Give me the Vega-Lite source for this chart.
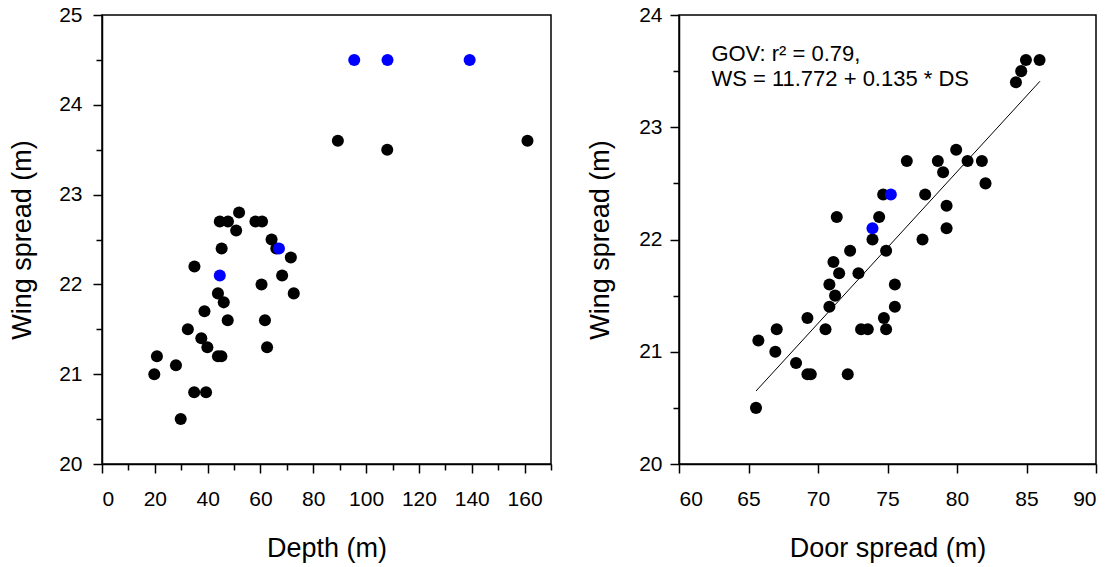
{
  "$schema": "https://vega.github.io/schema/vega-lite/v6.json",
  "background": "white",
  "padding": {"left": 7, "top": 3, "right": 5, "bottom": 5},
  "bounds": "flush",
  "spacing": 128,
  "config": {
    "font": "Liberation Sans",
    "view": {"stroke": "black", "strokeWidth": 1.5},
    "axis": {
      "grid": false,
      "domainColor": "black",
      "domainWidth": 1.5,
      "tickColor": "black",
      "tickWidth": 1.5,
      "labelFont": "Liberation Sans",
      "labelFontSize": 21,
      "labelColor": "black",
      "titleFont": "Liberation Sans",
      "titleFontSize": 27,
      "titleFontWeight": "normal",
      "titleColor": "black",
      "labelOverlap": false
    }
  },
  "datasets": {
    "depth": [
      {"depth": 89.3, "ws": 23.6, "grp": "black"},
      {"depth": 108.0, "ws": 23.5, "grp": "black"},
      {"depth": 161.1, "ws": 23.6, "grp": "black"},
      {"depth": 51.9, "ws": 22.8, "grp": "black"},
      {"depth": 44.6, "ws": 22.7, "grp": "black"},
      {"depth": 47.7, "ws": 22.7, "grp": "black"},
      {"depth": 58.1, "ws": 22.7, "grp": "black"},
      {"depth": 60.6, "ws": 22.7, "grp": "black"},
      {"depth": 50.8, "ws": 22.6, "grp": "black"},
      {"depth": 64.2, "ws": 22.5, "grp": "black"},
      {"depth": 66.0, "ws": 22.4, "grp": "black"},
      {"depth": 45.3, "ws": 22.4, "grp": "black"},
      {"depth": 71.5, "ws": 22.3, "grp": "black"},
      {"depth": 35.0, "ws": 22.2, "grp": "black"},
      {"depth": 68.2, "ws": 22.1, "grp": "black"},
      {"depth": 60.4, "ws": 22.0, "grp": "black"},
      {"depth": 43.9, "ws": 21.9, "grp": "black"},
      {"depth": 72.6, "ws": 21.9, "grp": "black"},
      {"depth": 46.1, "ws": 21.8, "grp": "black"},
      {"depth": 38.8, "ws": 21.7, "grp": "black"},
      {"depth": 47.6, "ws": 21.6, "grp": "black"},
      {"depth": 61.7, "ws": 21.6, "grp": "black"},
      {"depth": 32.5, "ws": 21.5, "grp": "black"},
      {"depth": 37.6, "ws": 21.4, "grp": "black"},
      {"depth": 39.9, "ws": 21.3, "grp": "black"},
      {"depth": 62.5, "ws": 21.3, "grp": "black"},
      {"depth": 43.9, "ws": 21.2, "grp": "black"},
      {"depth": 45.2, "ws": 21.2, "grp": "black"},
      {"depth": 20.8, "ws": 21.2, "grp": "black"},
      {"depth": 28.0, "ws": 21.1, "grp": "black"},
      {"depth": 19.8, "ws": 21.0, "grp": "black"},
      {"depth": 34.9, "ws": 20.8, "grp": "black"},
      {"depth": 39.4, "ws": 20.8, "grp": "black"},
      {"depth": 29.8, "ws": 20.5, "grp": "black"},
      {"depth": 95.5, "ws": 24.5, "grp": "blue"},
      {"depth": 108.1, "ws": 24.5, "grp": "blue"},
      {"depth": 139.2, "ws": 24.5, "grp": "blue"},
      {"depth": 67.0, "ws": 22.4, "grp": "blue"},
      {"depth": 44.6, "ws": 22.1, "grp": "blue"}
    ],
    "door": [
      {"ds": 85.94, "ws": 23.6, "grp": "black"},
      {"ds": 84.96, "ws": 23.6, "grp": "black"},
      {"ds": 84.62, "ws": 23.5, "grp": "black"},
      {"ds": 84.24, "ws": 23.4, "grp": "black"},
      {"ds": 79.94, "ws": 22.8, "grp": "black"},
      {"ds": 76.39, "ws": 22.7, "grp": "black"},
      {"ds": 78.62, "ws": 22.7, "grp": "black"},
      {"ds": 80.76, "ws": 22.7, "grp": "black"},
      {"ds": 81.79, "ws": 22.7, "grp": "black"},
      {"ds": 79.0, "ws": 22.6, "grp": "black"},
      {"ds": 82.05, "ws": 22.5, "grp": "black"},
      {"ds": 74.69, "ws": 22.4, "grp": "black"},
      {"ds": 77.71, "ws": 22.4, "grp": "black"},
      {"ds": 79.25, "ws": 22.3, "grp": "black"},
      {"ds": 71.35, "ws": 22.2, "grp": "black"},
      {"ds": 74.4, "ws": 22.2, "grp": "black"},
      {"ds": 79.25, "ws": 22.1, "grp": "black"},
      {"ds": 73.92, "ws": 22.0, "grp": "black"},
      {"ds": 77.52, "ws": 22.0, "grp": "black"},
      {"ds": 72.31, "ws": 21.9, "grp": "black"},
      {"ds": 74.9, "ws": 21.9, "grp": "black"},
      {"ds": 71.11, "ws": 21.8, "grp": "black"},
      {"ds": 71.52, "ws": 21.7, "grp": "black"},
      {"ds": 72.91, "ws": 21.7, "grp": "black"},
      {"ds": 70.82, "ws": 21.6, "grp": "black"},
      {"ds": 75.53, "ws": 21.6, "grp": "black"},
      {"ds": 71.23, "ws": 21.5, "grp": "black"},
      {"ds": 70.82, "ws": 21.4, "grp": "black"},
      {"ds": 75.53, "ws": 21.4, "grp": "black"},
      {"ds": 69.24, "ws": 21.3, "grp": "black"},
      {"ds": 74.74, "ws": 21.3, "grp": "black"},
      {"ds": 67.03, "ws": 21.2, "grp": "black"},
      {"ds": 70.54, "ws": 21.2, "grp": "black"},
      {"ds": 73.1, "ws": 21.2, "grp": "black"},
      {"ds": 73.58, "ws": 21.2, "grp": "black"},
      {"ds": 74.9, "ws": 21.2, "grp": "black"},
      {"ds": 65.71, "ws": 21.1, "grp": "black"},
      {"ds": 66.93, "ws": 21.0, "grp": "black"},
      {"ds": 68.42, "ws": 20.9, "grp": "black"},
      {"ds": 69.24, "ws": 20.8, "grp": "black"},
      {"ds": 69.48, "ws": 20.8, "grp": "black"},
      {"ds": 72.14, "ws": 20.8, "grp": "black"},
      {"ds": 65.54, "ws": 20.5, "grp": "black"},
      {"ds": 75.24, "ws": 22.4, "grp": "blue"},
      {"ds": 73.92, "ws": 22.1, "grp": "blue"}
    ],
    "fit": [
      {"ds": 65.54, "ws": 20.65},
      {"ds": 85.97, "ws": 23.41}
    ],
    "notes": [
      {"ds": 62.33, "ws": 23.59, "label": "GOV: r² = 0.79,"},
      {"ds": 62.33, "ws": 23.37, "label": "WS = 11.772 + 0.135 * DS"}
    ]
  },
  "hconcat": [
    {
      "width": 449,
      "height": 449,
      "data": {"name": "depth"},
      "mark": {"type": "circle", "size": 145, "opacity": 1},
      "encoding": {
        "x": {
          "field": "depth", "type": "quantitative",
          "scale": {"domain": [0, 170], "nice": false, "zero": false},
          "axis": {
            "title": "Depth (m)",
            "values": [0, 10, 20, 30, 40, 50, 60, 70, 80, 90, 100, 110, 120, 130, 140, 150, 160, 170],
            "labelExpr": "datum.value % 20 === 0 && datum.value <= 160 ? format(datum.value, 'd') : ''",
            "tickSize": {"condition": {"test": "datum.value % 20 === 0", "value": 9}, "value": 6},
            "labelPadding": 15,
            "titlePadding": 26
          }
        },
        "y": {
          "field": "ws", "type": "quantitative",
          "scale": {"domain": [20, 25], "nice": false, "zero": false},
          "axis": {
            "title": "Wing spread (m)",
            "values": [20, 20.5, 21, 21.5, 22, 22.5, 23, 23.5, 24, 24.5, 25],
            "labelExpr": "datum.value % 1 === 0 ? format(datum.value, 'd') : ''",
            "tickSize": {"condition": {"test": "datum.value % 1 === 0", "value": 9}, "value": 6},
            "labelPadding": 11,
            "titlePadding": 22
          }
        },
        "color": {
          "field": "grp", "type": "nominal",
          "scale": {"domain": ["black", "blue"], "range": ["#000000", "#0000ff"]},
          "legend": null
        }
      }
    },
    {
      "width": 417,
      "height": 449,
      "layer": [
        {
          "data": {"name": "fit"},
          "mark": {"type": "line", "color": "black", "strokeWidth": 1},
          "encoding": {
            "x": {"field": "ds", "type": "quantitative"},
            "y": {"field": "ws", "type": "quantitative"}
          }
        },
        {
          "data": {"name": "door"},
          "mark": {"type": "circle", "size": 145, "opacity": 1},
          "encoding": {
            "x": {
              "field": "ds", "type": "quantitative",
              "scale": {"domain": [60, 90], "nice": false, "zero": false},
              "axis": {
                "title": "Door spread (m)",
                "values": [60, 62.5, 65, 67.5, 70, 72.5, 75, 77.5, 80, 82.5, 85, 87.5, 90],
                "labelExpr": "datum.value % 5 === 0 ? format(datum.value, 'd') : ''",
                "tickSize": {"condition": {"test": "datum.value % 5 === 0", "value": 9}, "value": 6},
                "labelPadding": 15,
                "titlePadding": 26
              }
            },
            "y": {
              "field": "ws", "type": "quantitative",
              "scale": {"domain": [20, 24], "nice": false, "zero": false},
              "axis": {
                "title": "Wing spread (m)",
                "values": [20, 20.5, 21, 21.5, 22, 22.5, 23, 23.5, 24],
                "labelExpr": "datum.value % 1 === 0 ? format(datum.value, 'd') : ''",
                "tickSize": {"condition": {"test": "datum.value % 1 === 0", "value": 9}, "value": 6},
                "labelPadding": 8,
                "titlePadding": 24
              }
            },
            "color": {
              "field": "grp", "type": "nominal",
              "scale": {"domain": ["black", "blue"], "range": ["#000000", "#0000ff"]},
              "legend": null
            }
          }
        },
        {
          "data": {"name": "notes"},
          "mark": {"type": "text", "align": "left", "baseline": "alphabetic", "fontSize": 22, "font": "Liberation Sans", "color": "black"},
          "encoding": {
            "x": {"field": "ds", "type": "quantitative"},
            "y": {"field": "ws", "type": "quantitative"},
            "text": {"field": "label"}
          }
        }
      ]
    }
  ]
}
